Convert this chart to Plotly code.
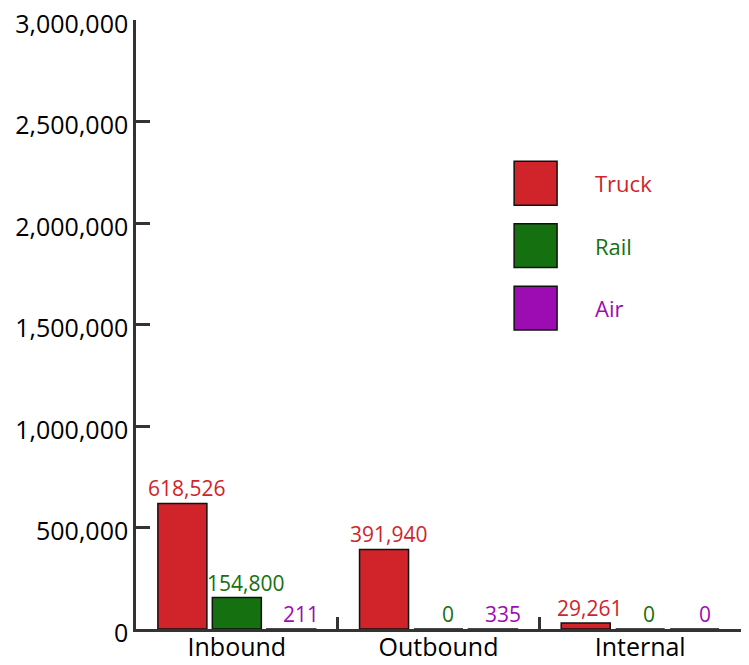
import plotly.graph_objects as go

# data
categories = ['Inbound', 'Outbound', 'Internal']
truck = [618526, 391940, 29261]
rail = [154800, 0, 0]
air = [211, 335, 0]

series_names = ['Truck', 'Rail', 'Air']
series_vals = [truck, rail, air]
colors = ['#d0242a', '#15700f', '#9d0cb3']

y_ticks = [0, 500000, 1000000, 1500000, 2000000, 2500000, 3000000]

FONT = 'Open Sans'

W, H = 741, 657   # page body has an 8px margin, so figure is a bit smaller than the window
ML, MR, MT, MB = 128, 8, 12, 36
BARGAP = 0.19

fig = go.Figure()
for name, vals, col in zip(series_names, series_vals, colors):
    fig.add_trace(go.Bar(
        x=categories, y=vals, name=name,
        marker=dict(color=col, line=dict(color='#111', width=1.5)),
        cliponaxis=False, showlegend=False,
    ))

# value labels above each bar, nudged a little to the right like the original
cat_w = (W - ML - MR) / len(categories)
slot = cat_w * (1 - BARGAP) / len(series_names)
nudge = [4, 9, 10]
for i, (vals, col) in enumerate(zip(series_vals, colors)):
    for c, v in zip(categories, vals):
        fig.add_annotation(x=c, y=v, text=f'{v:,}', showarrow=False,
                           xshift=(i - 1) * slot + nudge[i], yshift=-1,
                           yanchor='bottom',
                           font=dict(color=col, size=21, family=FONT))

# legend drawn by hand (big squares + coloured labels)
for i, (name, col) in enumerate(zip(series_names, colors)):
    top = 0.768 - i * 0.1025
    fig.add_shape(type='rect', xref='paper', yref='paper',
                  x0=0.625, x1=0.696, y0=top - 0.072, y1=top,
                  fillcolor=col, line=dict(color='#111', width=1.5))
    fig.add_annotation(xref='paper', yref='paper', x=0.755, y=top - 0.036,
                       text=name, showarrow=False, xanchor='left', yanchor='middle',
                       font=dict(color=col, size=22, family=FONT))

fig.update_layout(
    barmode='group', bargap=BARGAP, bargroupgap=0.1,
    width=W, height=H,
    margin=dict(l=ML, r=MR, t=MT, b=MB),
    plot_bgcolor='white', paper_bgcolor='white',
    font=dict(family=FONT, color='black'),
)
fig.update_yaxes(range=[0, 3000000], tickvals=y_ticks, tickformat=',',
                 showgrid=False, zeroline=False, automargin=False,
                 ticklabeloverflow='allow', ticklabelshift=4,
                 showline=True, linecolor='#333', linewidth=2.5,
                 ticks='inside', ticklen=14, tickwidth=2.5, tickcolor='#333',
                 tickfont=dict(size=25, family=FONT, color='black'))
fig.update_xaxes(showgrid=False, showline=True, linecolor='#333', linewidth=2.5,
                 automargin=False, ticklabelstandoff=-6,
                 ticks='inside', tickson='boundaries', ticklen=12, tickwidth=2.5,
                 tickcolor='#333',
                 tickfont=dict(size=25, family=FONT, color='black'))

fig.write_html('out.html')
